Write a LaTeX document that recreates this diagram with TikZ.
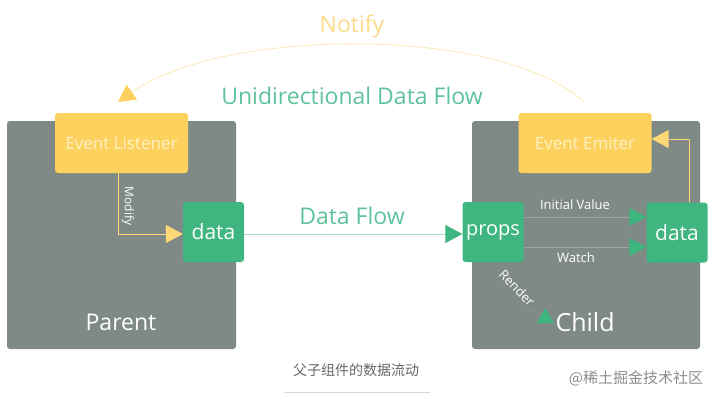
\documentclass[tikz,border=0pt]{standalone}
\usepackage{fontspec}
\setmainfont{Open Sans}
\newfontfamily\cjk{Noto Sans CJK SC}
\usetikzlibrary{arrows.meta}
\definecolor{pgray}{HTML}{7F8A87}
\definecolor{pyel}{HTML}{FDD15E}
\definecolor{pgreen}{HTML}{3FB67F}
\definecolor{ytext}{HTML}{FFF1C4}
\definecolor{notify}{HTML}{FBDB8A}
\definecolor{uniflow}{HTML}{5DC29A}
\definecolor{flowline}{HTML}{A9DCC3}
\definecolor{capgray}{HTML}{666666}
\tikzset{
  panel/.style={fill=pgray, rounded corners=3pt, inner sep=0pt},
  ybox/.style={fill=pyel, rounded corners=3pt, minimum width=133pt, minimum height=60pt, text=ytext, font=\fontsize{17}{17}\selectfont, inner sep=0pt},
  gbox/.style={fill=pgreen, rounded corners=3pt, minimum width=61pt, minimum height=60pt, text=white, font=\fontsize{21}{21}\selectfont, inner sep=0pt},
  ytip/.style={-{Triangle[length=17pt,width=18pt]}, draw=pyel!85!white, line width=1pt},
  gline/.style={draw=pgray!75!white, line width=1pt, -{Triangle[length=17pt,width=18pt,fill=pgreen,color=pgreen]}},
  wlabel/.style={text=white, font=\fontsize{13}{13}\selectfont, inner sep=1pt},
}
\begin{document}
\begin{tikzpicture}[x=1pt,y=-1pt]
\useasboundingbox (0,0) rectangle (716,400);
% panels
\node[panel, minimum width=229pt, minimum height=228pt] (parent) at (121.5,235) {};
\node[panel, minimum width=228pt, minimum height=228pt] (child) at (586,235) {};
% parent contents
\node[ybox] (listener) at (121.5,143) {Event Listener};
\node[gbox] (pdata) at (213.5,232) {data};
\node[text=white, font=\fontsize{23}{23}\selectfont] (ptext) at (121,322) {Parent};
% child contents
\node[ybox] (emitter) at (585,143) {Event Emiter};
\node[gbox, font=\fontsize{20}{20}\selectfont] (props) at (493,232) {props};
\node[gbox] (cdata) at (677,232.5) {data};
\node[text=white, font=\fontsize{25}{25}\selectfont, anchor=west] (ctext) at (552,322) {Child};
% Modify
\coordinate (mcorner) at (118,234);
\draw[ytip, -] (listener.south -| mcorner) -- (mcorner);
\draw[ytip, fill=pyel] (mcorner) -- (pdata.west |- mcorner);
\node[wlabel, rotate=-90, font=\fontsize{12}{12}\selectfont] (modify) at (128,206) {Modify};
% Data Flow
\draw[draw=flowline, line width=1pt, -{Triangle[length=17pt,width=18pt,fill=pgreen,color=pgreen]}] (pdata.east |- 0,234) coordinate (df1) -- (props.west |- df1);
\node[text=uniflow, font=\fontsize{23}{23}\selectfont] (dflow) at (352,216) {Data Flow};
% Initial value / watch
\draw[gline] (props.east |- 0,217) coordinate (iv) -- (cdata.west |- iv);
\draw[gline] (props.east |- 0,247) coordinate (wt) -- (cdata.west |- wt);
\node[wlabel] (ivl) at (575,205) {Initial Value};
\node[wlabel] (wtl) at (576,258) {Watch};
% Render
\node[wlabel, rotate=-45] (render) at (517,288) {Render};
\coordinate (rtip) at (554,323);
\draw[draw=pgray!92!white, line width=0.8pt, -{Triangle[length=15pt,width=17pt,fill=pgreen,color=pgreen]}] (render.south east) -- (rtip);
% child data -> emitter
\coordinate (ecorner) at (689,139);
\draw[ytip, -] (cdata.north -| ecorner) -- (ecorner);
\draw[ytip, fill=pyel] (ecorner) -- (emitter.east |- ecorner);
% Notify arc
\coordinate (nstart) at (585,103);
\coordinate (nend) at (118,102);
\draw[draw=notify!65!white, line width=0.8pt, -{Triangle[length=17pt,width=18pt,fill=pyel,color=pyel]}] (nstart) .. controls (505,26) and (225,26) .. (nend);
\node[text=notify, font=\fontsize{23}{23}\selectfont] (notifyl) at (352,26) {Notify};
\node[text=uniflow, font=\fontsize{23}{23}\selectfont] (unil) at (352,96) {Unidirectional Data Flow};
% caption
\node[text=capgray, font=\cjk\fontsize{14}{14}\selectfont] (cap) at (356,370) {父子组件的数据流动};
\draw[draw=black!15, line width=0.6pt] (284,392) -- (430,392);
\node[text=black!45, font=\cjk\fontsize{15}{15}\selectfont] (wm) at (636,378) {@稀土掘金技术社区};
\end{tikzpicture}
\end{document}
